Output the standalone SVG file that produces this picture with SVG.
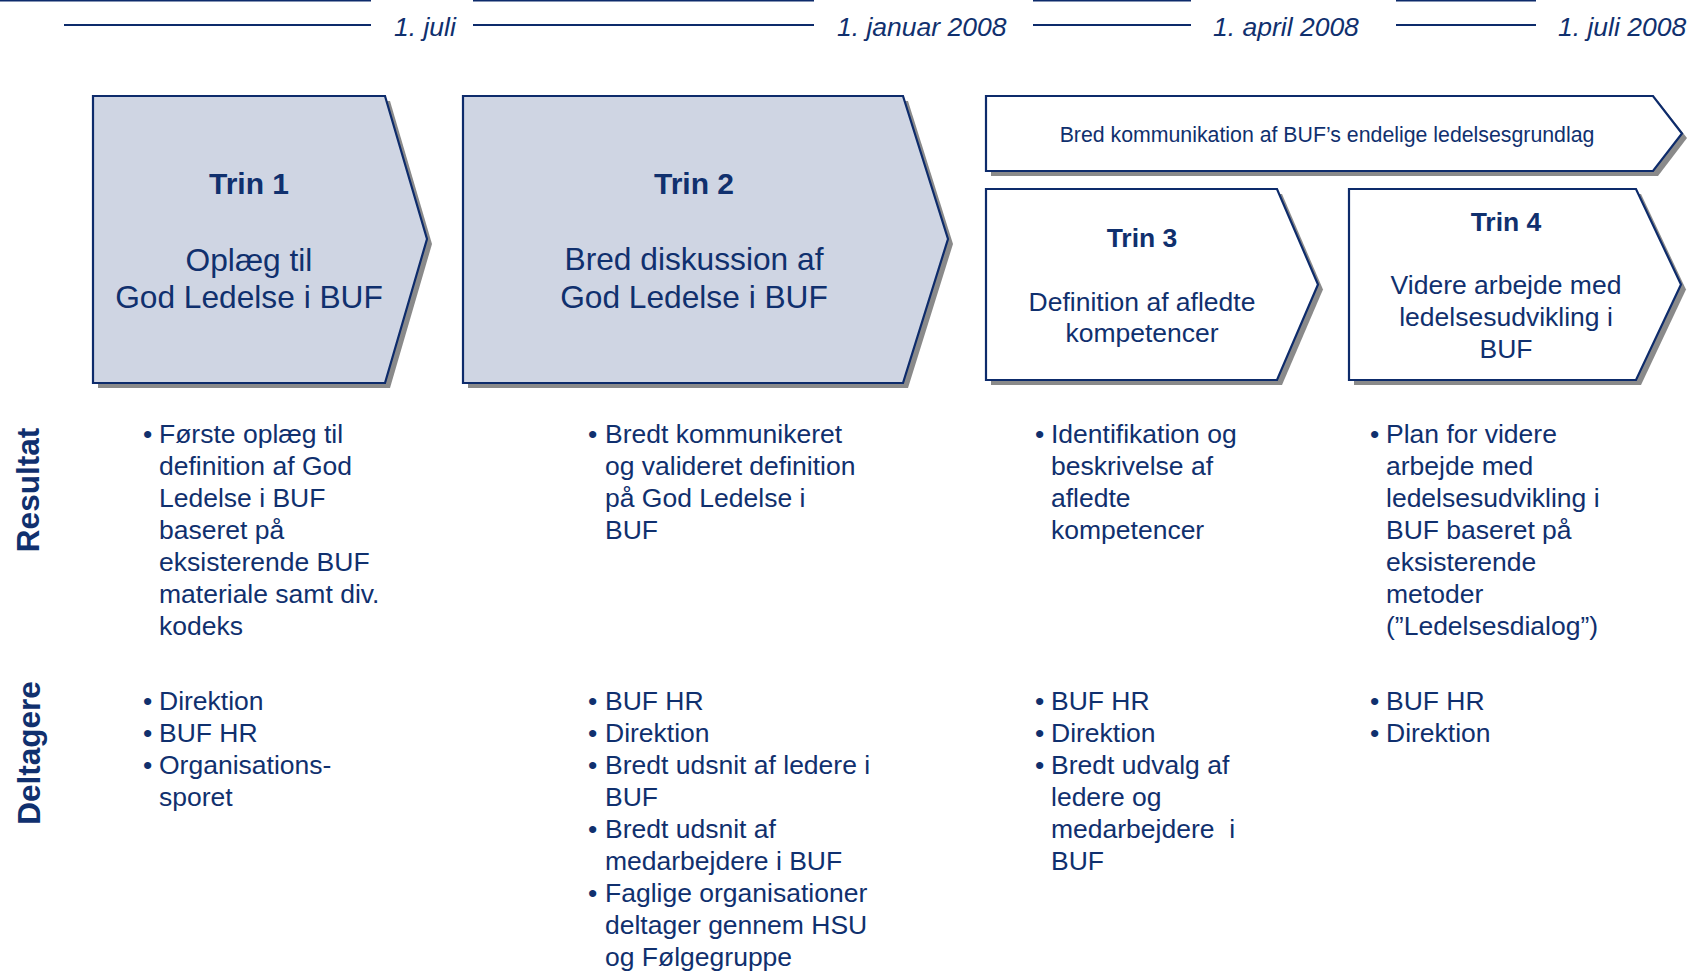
<svg xmlns="http://www.w3.org/2000/svg" width="1690" height="973" viewBox="0 0 1690 973">
<style>
.bg{fill:#ffffff}
.tl{stroke:#0d2b6b;stroke-width:2.2;fill:none}
.date{font-family:"Liberation Sans",Arial,sans-serif;font-style:italic;font-size:26.5px;fill:#10306e}
.shadow{fill:#8a8a8a;stroke:none}
.filled{fill:#cfd5e3;stroke:#0d2b6b;stroke-width:2.2;stroke-linejoin:miter}
.open{fill:#ffffff;stroke:#0d2b6b;stroke-width:2.2;stroke-linejoin:miter}
.t{font-family:"Liberation Sans",Arial,sans-serif;fill:#10306e}
.big{font-size:31.7px;text-anchor:middle}
.mid{font-size:26.5px;text-anchor:middle}
.tb1{font-size:30px;font-weight:bold;text-anchor:middle}
.tb2{font-size:26.5px;font-weight:bold;text-anchor:middle}
.small{font-size:21.3px;text-anchor:middle}
.body{font-size:26.5px;white-space:pre}
.lab{font-size:31.5px;font-weight:bold;text-anchor:middle}
</style>
<rect class="bg" x="0" y="0" width="1690" height="973"/>

<g id="timeline">
<line class="tl" x1="0" y1="0.5" x2="371" y2="0.5"/>
<line class="tl" x1="473" y1="0.5" x2="814" y2="0.5"/>
<line class="tl" x1="1033" y1="0.5" x2="1191" y2="0.5"/>
<line class="tl" x1="1396" y1="0.5" x2="1536" y2="0.5"/>
<line class="tl" x1="64" y1="25" x2="371" y2="25"/>
<line class="tl" x1="473" y1="25" x2="814" y2="25"/>
<line class="tl" x1="1033" y1="25" x2="1191" y2="25"/>
<line class="tl" x1="1396" y1="25" x2="1536" y2="25"/>
<text class="date" x="394" y="36">1. juli</text>
<text class="date" x="837" y="36">1. januar 2008</text>
<text class="date" x="1213" y="36">1. april 2008</text>
<text class="date" x="1558" y="36">1. juli 2008</text>
</g>

<g id="connectors"></g>

<g id="trin1">
<polygon class="shadow" points="98,101 390,101 432,244 390,388 98,388"/>
<polygon class="filled" points="93,96 385,96 427,239 385,383 93,383"/>
<text class="t tb1" x="249" y="194">Trin 1</text>
<text class="t big" x="249" y="271">Oplæg til</text>
<text class="t big" x="249" y="308">God Ledelse i BUF</text>
</g>

<g id="trin2">
<polygon class="shadow" points="468,101 908,101 953,244 908,388 468,388"/>
<polygon class="filled" points="463,96 903,96 948,239 903,383 463,383"/>
<text class="t tb1" x="694" y="194">Trin 2</text>
<text class="t big" x="694" y="270">Bred diskussion af</text>
<text class="t big" x="694" y="308">God Ledelse i BUF</text>
</g>

<g id="bred">
<polygon class="shadow" points="991,101 1658,101 1687,138 1658,176 991,176"/>
<polygon class="open" points="986,96 1653,96 1682,133.5 1653,171 986,171"/>
<text class="t small" x="1327" y="142">Bred kommunikation af BUF’s endelige ledelsesgrundlag</text>
</g>

<g id="trin3">
<polygon class="shadow" points="991,194 1282,194 1323,289.5 1282,385 991,385"/>
<polygon class="open" points="986,189 1277,189 1318,284.5 1277,380 986,380"/>
<text class="t tb2" x="1142" y="247">Trin 3</text>
<text class="t mid" x="1142" y="311">Definition af afledte</text>
<text class="t mid" x="1142" y="342">kompetencer</text>
</g>

<g id="trin4">
<polygon class="shadow" points="1354,194 1641,194 1686,289.5 1641,385 1354,385"/>
<polygon class="open" points="1349,189 1636,189 1681,284.5 1636,380 1349,380"/>
<text class="t tb2" x="1506" y="231">Trin 4</text>
<text class="t mid" x="1506" y="294">Videre arbejde med</text>
<text class="t mid" x="1506" y="326">ledelsesudvikling i</text>
<text class="t mid" x="1506" y="358">BUF</text>
</g>

<g id="labels">
<text class="t lab" transform="translate(39,490) rotate(-90)">Resultat</text>
<text class="t lab" transform="translate(40,753) rotate(-90)">Deltagere</text>
</g>

<g id="resultat1">
<text class="t body" x="143" y="443">•</text>
<text class="t body" x="159" y="443">Første oplæg til</text>
<text class="t body" x="159" y="475">definition af God</text>
<text class="t body" x="159" y="507">Ledelse i BUF</text>
<text class="t body" x="159" y="539">baseret på</text>
<text class="t body" x="159" y="571">eksisterende BUF</text>
<text class="t body" x="159" y="603">materiale samt div.</text>
<text class="t body" x="159" y="635">kodeks</text>
</g>

<g id="resultat2">
<text class="t body" x="588" y="443">•</text>
<text class="t body" x="605" y="443">Bredt kommunikeret</text>
<text class="t body" x="605" y="475">og valideret definition</text>
<text class="t body" x="605" y="507">på God Ledelse i</text>
<text class="t body" x="605" y="539">BUF</text>
</g>

<g id="resultat3">
<text class="t body" x="1035" y="443">•</text>
<text class="t body" x="1051" y="443">Identifikation og</text>
<text class="t body" x="1051" y="475">beskrivelse af</text>
<text class="t body" x="1051" y="507">afledte</text>
<text class="t body" x="1051" y="539">kompetencer</text>
</g>

<g id="resultat4">
<text class="t body" x="1370" y="443">•</text>
<text class="t body" x="1386" y="443">Plan for videre</text>
<text class="t body" x="1386" y="475">arbejde med</text>
<text class="t body" x="1386" y="507">ledelsesudvikling i</text>
<text class="t body" x="1386" y="539">BUF baseret på</text>
<text class="t body" x="1386" y="571">eksisterende</text>
<text class="t body" x="1386" y="603">metoder</text>
<text class="t body" x="1386" y="635">(”Ledelsesdialog”)</text>
</g>

<g id="deltagere1">
<text class="t body" x="143" y="710">•</text>
<text class="t body" x="159" y="710">Direktion</text>
<text class="t body" x="143" y="742">•</text>
<text class="t body" x="159" y="742">BUF HR</text>
<text class="t body" x="143" y="774">•</text>
<text class="t body" x="159" y="774">Organisations-</text>
<text class="t body" x="159" y="806">sporet</text>
</g>

<g id="deltagere2">
<text class="t body" x="588" y="710">•</text>
<text class="t body" x="605" y="710">BUF HR</text>
<text class="t body" x="588" y="742">•</text>
<text class="t body" x="605" y="742">Direktion</text>
<text class="t body" x="588" y="774">•</text>
<text class="t body" x="605" y="774">Bredt udsnit af ledere i</text>
<text class="t body" x="605" y="806">BUF</text>
<text class="t body" x="588" y="838">•</text>
<text class="t body" x="605" y="838">Bredt udsnit af</text>
<text class="t body" x="605" y="870">medarbejdere i BUF</text>
<text class="t body" x="588" y="902">•</text>
<text class="t body" x="605" y="902">Faglige organisationer</text>
<text class="t body" x="605" y="934">deltager gennem HSU</text>
<text class="t body" x="605" y="966">og Følgegruppe</text>
</g>

<g id="deltagere3">
<text class="t body" x="1035" y="710">•</text>
<text class="t body" x="1051" y="710">BUF HR</text>
<text class="t body" x="1035" y="742">•</text>
<text class="t body" x="1051" y="742">Direktion</text>
<text class="t body" x="1035" y="774">•</text>
<text class="t body" x="1051" y="774">Bredt udvalg af</text>
<text class="t body" x="1051" y="806">ledere og</text>
<text class="t body" x="1051" y="838">medarbejdere  i</text>
<text class="t body" x="1051" y="870">BUF</text>
</g>

<g id="deltagere4">
<text class="t body" x="1370" y="710">•</text>
<text class="t body" x="1386" y="710">BUF HR</text>
<text class="t body" x="1370" y="742">•</text>
<text class="t body" x="1386" y="742">Direktion</text>
</g>
</svg>
